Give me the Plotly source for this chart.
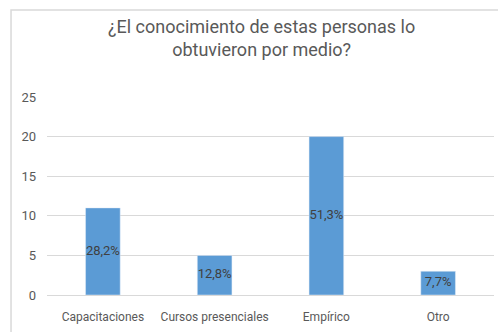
import plotly.graph_objects as go

categories = ["Capacitaciones", "Cursos presenciales", "Empírico", "Otro"]
values = [11, 5, 20, 3]
labels = ["28,2%", "12,8%", "51,3%", "7,7%"]
y_ticks = [0, 5, 10, 15, 20, 25]

FONT = "Liberation Sans Narrow, Arial Narrow, Roboto, sans-serif"

fig = go.Figure()
fig.add_trace(go.Bar(
    x=categories, y=values,
    marker=dict(color="#5b9bd5"),
    hoverinfo="skip",
))
fig.add_trace(go.Scatter(
    x=categories, y=[v / 2 for v in values], text=labels,
    mode="text", textposition="middle center",
    textfont=dict(family=FONT, size=13, color="#404040"),
    cliponaxis=False, hoverinfo="skip",
))

fig.update_layout(
    width=498, height=332,
    margin=dict(l=47, r=4, t=97, b=37),
    paper_bgcolor="white", plot_bgcolor="white",
    bargap=0.69,
    showlegend=False,
    font=dict(family=FONT, color="#595959"),
    xaxis=dict(tickfont=dict(size=12, color="#595959"), showgrid=False,
               showline=True, linecolor="#d9d9d9", ticks="", fixedrange=True,
               ticklabelstandoff=11),
    yaxis=dict(range=[0, 25], tickvals=y_ticks, tickfont=dict(size=13, color="#595959"),
               gridcolor="#d9d9d9", showline=False, zeroline=False, ticks="",
               ticklabelstandoff=10, fixedrange=True),
    annotations=[dict(
        text="¿El conocimiento de estas personas lo<br>obtuvieron por medio?",
        xref="paper", yref="paper", x=0.479, y=1.42, xanchor="center", yanchor="top",
        showarrow=False, font=dict(family=FONT, size=18, color="#595959"),
    )],
    shapes=[dict(type="rect", xref="paper", yref="paper",
                 x0=-0.0805, x1=1.2, y0=-0.4, y1=1.439,
                 line=dict(color="#d9d9d9", width=1.5), layer="below")],
)

fig.write_html("out.html")
